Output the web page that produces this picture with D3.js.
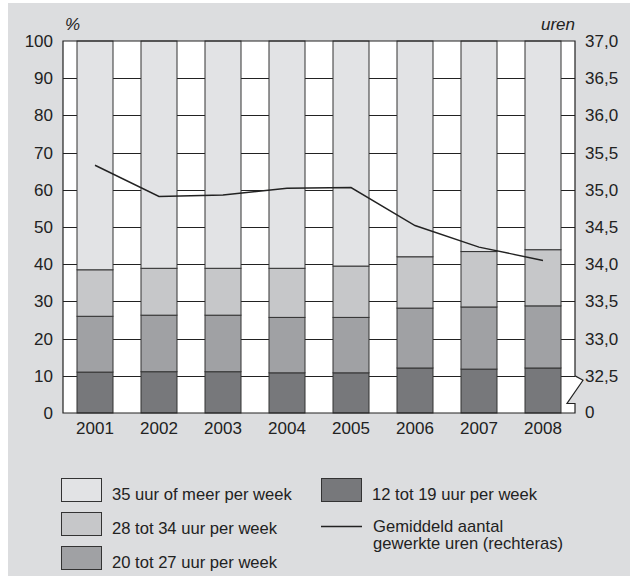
<!DOCTYPE html>
<html>
<head>
<meta charset="utf-8">
<script src="https://cdn.jsdelivr.net/npm/d3@7"></script>
<style>
  html, body { margin: 0; padding: 0; background: #fff; }
  svg { display: block; font-family: "Liberation Sans", Arial, sans-serif; }
</style>
</head>
<body>
<div id="chart"></div>
<script>
// data
var years = ["2001", "2002", "2003", "2004", "2005", "2006", "2007", "2008"];
var u12_19 = [11.0, 11.1, 11.1, 10.8, 10.8, 12.1, 11.8, 12.1];
var u20_27 = [15.0, 15.2, 15.2, 14.9, 14.9, 16.1, 16.7, 16.7];
var u28_34 = [12.5, 12.6, 12.6, 13.2, 13.8, 13.8, 14.9, 15.1];
var u35plus = [61.5, 61.1, 61.1, 61.1, 60.5, 58.0, 56.6, 56.1];
var avgHours = [35.33, 34.91, 34.93, 35.02, 35.03, 34.52, 34.23, 34.05];
var leftTicks = [0, 10, 20, 30, 40, 50, 60, 70, 80, 90, 100];
var rightTicks = [32.5, 33.0, 33.5, 34.0, 34.5, 35.0, 35.5, 36.0, 36.5, 37.0];

var seriesKeys = ["u12_19", "u20_27", "u28_34", "u35plus"];
var seriesLabels = {
  u35plus: "35 uur of meer per week",
  u28_34: "28 tot 34 uur per week",
  u20_27: "20 tot 27 uur per week",
  u12_19: "12 tot 19 uur per week"
};
var fills = { u12_19: "#77787b", u20_27: "#a0a1a4", u28_34: "#c6c7c9", u35plus: "#e2e3e5" };

var rows = years.map(function(y, i) {
  return { year: y, u12_19: u12_19[i], u20_27: u20_27[i], u28_34: u28_34[i], u35plus: u35plus[i], hours: avgHours[i] };
});

var W = 630, H = 576;
var pLeft = 63, pRight = 575, pTop = 41, pBottom = 413;
var ink = "#222";

var svg = d3.select("#chart").append("svg").attr("width", W).attr("height", H);

svg.append("rect").attr("x", 8).attr("y", 3).attr("width", W - 8).attr("height", H - 3).attr("fill", "#dcdddf");

var x = d3.scaleBand().domain(years).range([pLeft, pRight]).paddingInner(0.4375).paddingOuter(0.21875);
var y = d3.scaleLinear().domain([0, 100]).range([pBottom, pTop]);
// right axis: 32,5 sits at 10 %, 37,0 at 100 %
var yh = d3.scaleLinear().domain([32.5, 37]).range([y(10), y(100)]);

// white plot area, right edge with the axis break
var breakPath = [
  [pRight, pTop], [pRight, y(10)], [pRight + 8, y(10) + 4.5], [pRight - 8, pBottom - 9.5],
  [pRight, pBottom - 9.5], [pRight, pBottom]
];
var plotPoly = [[pLeft, pTop]].concat(breakPath).concat([[pLeft, pBottom]]);
svg.append("path")
  .attr("d", d3.line()(plotPoly) + "Z")
  .attr("fill", "#fff");

// grid
svg.append("g").selectAll("line").data(leftTicks.slice(1, -1)).enter().append("line")
  .attr("x1", pLeft).attr("x2", pRight)
  .attr("y1", function(d) { return Math.round(y(d)) + 0.5; })
  .attr("y2", function(d) { return Math.round(y(d)) + 0.5; })
  .attr("stroke", ink).attr("stroke-width", 1);

// stacked bars
var stack = d3.stack().keys(seriesKeys)(rows);
svg.append("g").selectAll("g").data(stack).enter().append("g")
  .attr("fill", function(s) { return fills[s.key]; })
  .selectAll("rect").data(function(s) { return s; }).enter().append("rect")
  .attr("x", function(d) { return x(d.data.year); })
  .attr("width", x.bandwidth())
  .attr("y", function(d) { return y(d[1]); })
  .attr("height", function(d) { return y(d[0]) - y(d[1]); })
  .attr("stroke", "#333").attr("stroke-width", 1);

// plot frame
svg.append("path")
  .attr("d", d3.line()([[pLeft, pBottom], [pLeft, pTop]].concat(breakPath)) + "Z")
  .attr("fill", "none").attr("stroke", ink).attr("stroke-width", 1.2);

// average hours line
svg.append("path")
  .datum(rows)
  .attr("d", d3.line()
    .x(function(d) { return x(d.year) + x.bandwidth() / 2; })
    .y(function(d) { return yh(d.hours); }))
  .attr("fill", "none").attr("stroke", ink).attr("stroke-width", 1.4);

// axes
function styleAxis(g) {
  g.select(".domain").remove();
  g.selectAll("text").attr("fill", ink).style("font-size", "17px");
}

svg.append("g").attr("transform", "translate(" + pLeft + ",0)")
  .call(d3.axisLeft(y).tickValues(leftTicks).tickSize(0).tickPadding(10))
  .call(styleAxis);

var commaFmt = function(v) { return d3.format(".1f")(v).replace(".", ","); };
svg.append("g").attr("transform", "translate(" + pRight + ",0)")
  .call(d3.axisRight(yh).tickValues(rightTicks).tickFormat(commaFmt).tickSize(0).tickPadding(10))
  .call(styleAxis);
svg.append("text").attr("x", pRight + 10).attr("y", y(0)).attr("dy", "0.32em")
  .attr("fill", ink).style("font-size", "17px").text("0");

svg.append("g").attr("transform", "translate(0," + pBottom + ")")
  .call(d3.axisBottom(x).tickSize(0).tickPadding(9))
  .call(styleAxis);

svg.append("text").attr("x", 65).attr("y", 30).attr("fill", ink)
  .style("font-size", "17px").style("font-style", "italic").text("%");
svg.append("text").attr("x", pRight).attr("y", 30).attr("text-anchor", "end").attr("fill", ink)
  .style("font-size", "17px").style("font-style", "italic").text("uren");

// legend
var legendBoxes = [
  { key: "u35plus", x: 61, y: 478 },
  { key: "u28_34", x: 61, y: 512 },
  { key: "u20_27", x: 61, y: 546 },
  { key: "u12_19", x: 321, y: 478 }
];
var lg = svg.append("g");
lg.selectAll("rect").data(legendBoxes).enter().append("rect")
  .attr("x", function(d) { return d.x + 0.5; })
  .attr("y", function(d) { return d.y + 0.5; })
  .attr("width", 40).attr("height", 23)
  .attr("fill", function(d) { return fills[d.key]; })
  .attr("stroke", "#333").attr("stroke-width", 1);
lg.selectAll("text.lbl").data(legendBoxes).enter().append("text")
  .attr("x", function(d) { return d.x + 51; })
  .attr("y", function(d) { return d.y + 22; })
  .attr("fill", ink).style("font-size", "16.6px")
  .text(function(d) { return seriesLabels[d.key]; });

lg.append("line").attr("x1", 321).attr("x2", 362).attr("y1", 526.5).attr("y2", 526.5)
  .attr("stroke", ink).attr("stroke-width", 1.4);
lg.append("text").attr("x", 373).attr("y", 532).attr("fill", ink).style("font-size", "16.6px")
  .text("Gemiddeld aantal");
lg.append("text").attr("x", 373).attr("y", 549).attr("fill", ink).style("font-size", "16.6px")
  .text("gewerkte uren (rechteras)");
</script>
</body>
</html>
